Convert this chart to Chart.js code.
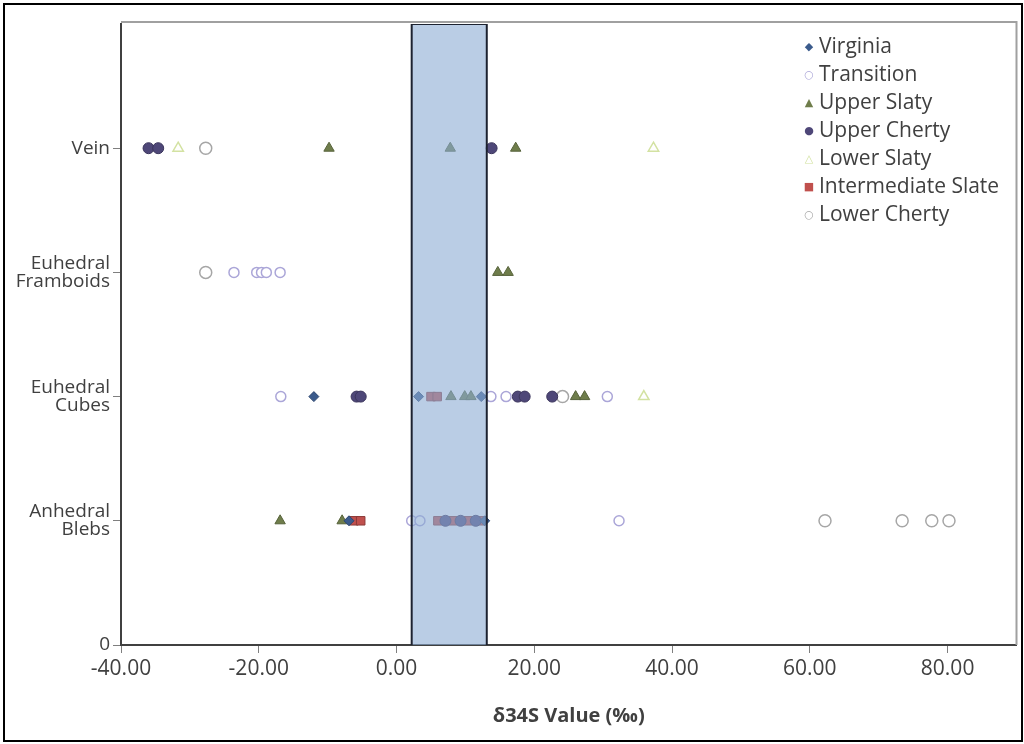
<!DOCTYPE html>
<html lang="en">
  <head>
    <meta charset="UTF-8" />
    <title>d34S by pyrite texture</title>
    <style>
      * {
        margin: 0;
        padding: 0;
      }
      body {
        width: 1024px;
        height: 744px;
        background: #fff;
        position: relative;
        overflow: hidden;
        font-family: "Open Sans", sans-serif;
      }
      .frame {
        position: absolute;
        left: 3px;
        top: 3px;
        width: 1016px;
        height: 735px;
        border: 2px solid #000;
      }
      .chartBox {
        position: absolute;
        left: 0;
        top: 0;
        width: 1024px;
        height: 744px;
      }
      .legend {
        position: absolute;
        left: 799px;
        top: 32px;
        font-size: 21px;
        color: #404040;
        line-height: 27px;
      }
      .legend div {
        white-space: nowrap;
      }
      .legend span {
        display: inline-block;
        width: 20px;
        font-family: "DejaVu Sans", sans-serif;
        font-size: 11px;
        text-align: center;
        vertical-align: 3px;
      }
    </style>
  </head>
  <body>
    <div class="chartBox">
      <canvas id="myChart" width="1024" height="744"></canvas>
    </div>
    <div class="frame"></div>
    <div class="legend" id="legend"></div>

    <script src="https://cdn.jsdelivr.net/npm/chart.js"></script>

    <script>
      // data block: y categories bottom to top
      const categories = ["Anhedral Blebs", "Euhedral Cubes", "Euhedral Framboids", "Vein"];
      const xTicks = [-40, -20, 0, 20, 40, 60, 80];
      const boxRange = [2.2, 13.1];

      // each series: values per category (same order as categories)
      const virginia = [[-6.9, 12.8], [-12.0, 3.2, 12.3], [], []];
      const transition = [[2.2, 3.4, 32.3], [-16.8, 13.7, 15.9, 30.6], [-23.6, -20.3, -19.6, -18.9, -16.9], []];
      const upperSlaty = [[-16.9, -7.9], [7.9, 9.9, 10.8, 26.0, 27.3], [14.7, 16.2], [-9.8, 7.8, 17.3]];
      const upperCherty = [[7.1, 9.3, 11.5], [-5.8, -5.2, 17.6, 18.6, 22.6], [], [-36.0, -34.6, 13.8]];
      const lowerSlaty = [[], [35.9], [], [-31.7, 37.3]];
      const intermediateSlate = [[-6.2, -5.2, 6.0, 8.2, 10.4, 12.2], [5.0, 5.9], [], []];
      const lowerCherty = [[62.2, 73.4, 77.7, 80.2], [24.1], [-27.7], [-27.7]];

      const series = [
        { name: "Virginia", values: virginia, style: "rectRot", r: 5, bg: "#3b5b8c", bc: "#2d4670", bw: 1, glyph: "\u25C6" },
        { name: "Transition", values: transition, style: "circle", r: 5, bg: "#ffffff", bc: "#aba6d8", bw: 1.5, glyph: "\u25CB" },
        { name: "Upper Slaty", values: upperSlaty, style: "triangle", r: 6, bg: "#6f7d4b", bc: "#56623a", bw: 1, glyph: "\u25B2" },
        { name: "Upper Cherty", values: upperCherty, style: "circle", r: 5.5, bg: "#4e4778", bc: "#3b355c", bw: 1, glyph: "\u25CF" },
        { name: "Lower Slaty", values: lowerSlaty, style: "triangle", r: 6, bg: "#ffffff", bc: "#d3e2a2", bw: 1.5, glyph: "\u25B3" },
        { name: "Intermediate Slate", values: intermediateSlate, style: "rect", r: 6, bg: "#c0504d", bc: "#8c3a38", bw: 1, glyph: "\u25A0" },
        { name: "Lower Cherty", values: lowerCherty, style: "circle", r: 6, bg: "#ffffff", bc: "#a6a6a6", bw: 1.5, glyph: "\u25CB" }
      ];

      function toPoints(values) {
        const pts = [];
        values.forEach((list, i) => {
          list.forEach((v) => pts.push({ x: v, y: i + 1 }));
        });
        return pts;
      }

      const datasets = [
        {
          type: "line",
          label: "range",
          data: [
            { x: boxRange[0], y: 0 },
            { x: boxRange[0], y: 5 },
            { x: boxRange[1], y: 5 },
            { x: boxRange[1], y: 0 }
          ],
          showLine: true,
          fill: "origin",
          backgroundColor: "rgba(140, 172, 212, 0.6)",
          borderColor: "#1d2230",
          borderWidth: 2,
          pointRadius: 0,
          tension: 0,
          order: 0
        }
      ];

      series.forEach((s) => {
        datasets.push({
          label: s.name,
          data: toPoints(s.values),
          pointStyle: s.style,
          pointRadius: s.r,
          backgroundColor: s.bg,
          borderColor: s.bc,
          borderWidth: s.bw,
          order: 1
        });
      });

      // plot area border (top and right, like Excel)
      const plotBorder = {
        id: "plotBorder",
        afterDraw(chart) {
          const { ctx, chartArea: { left, top, right, bottom } } = chart;
          ctx.save();
          ctx.strokeStyle = "#a0a0a0";
          ctx.lineWidth = 2;
          ctx.beginPath();
          ctx.moveTo(left, top - 2);
          ctx.lineTo(right, top - 2);
          ctx.lineTo(right, bottom);
          ctx.stroke();
          ctx.restore();
        }
      };

      const config = {
        type: "scatter",
        data: { datasets },
        options: {
          responsive: false,
          animation: false,
          layout: { padding: { top: 24, right: -4, left: 0, bottom: 0 } },
          plugins: {
            legend: { display: false },
            tooltip: { enabled: false }
          },
          scales: {
            x: {
              min: -40,
              max: 90,
              afterFit(scale) {
                scale.height = 99;
              },
              afterBuildTicks(scale) {
                scale.ticks = xTicks.map((v) => ({ value: v }));
              },
              ticks: {
                callback: (v) => Number(v).toFixed(2),
                color: "#404040",
                font: { family: "Open Sans", size: 21 },
                padding: 3,
                maxRotation: 0
              },
              grid: {
                drawOnChartArea: false,
                tickLength: 8,
                color: "#7f7f7f"
              },
              border: { color: "#404040", width: 2 },
              title: {
                display: true,
                text: "\u03B434S Value (\u2030)",
                color: "#404040",
                font: { family: "Open Sans", size: 20, weight: "bold" },
                padding: { top: 8, bottom: 16 }
              }
            },
            y: {
              min: 0,
              max: 5,
              afterFit(scale) {
                scale.width = 121;
              },
              afterBuildTicks(scale) {
                scale.ticks = [0, 1, 2, 3, 4].map((v) => ({ value: v }));
              },
              ticks: {
                callback: (v) => (v === 0 ? "0" : categories[v - 1].split(" ")),
                color: "#404040",
                font: { family: "Open Sans", size: 19, lineHeight: 0.95 },
                padding: 3
              },
              grid: {
                drawOnChartArea: false,
                tickLength: 8,
                color: "#7f7f7f"
              },
              border: { color: "#404040", width: 2 }
            }
          }
        },
        plugins: [plotBorder]
      };

      const myChart = new Chart(document.getElementById("myChart"), config);

      // legend block
      const legend = document.getElementById("legend");
      series.forEach((s) => {
        const row = document.createElement("div");
        const mark = document.createElement("span");
        mark.textContent = s.glyph;
        mark.style.color = s.bg === "#ffffff" ? s.bc : s.bg;
        row.appendChild(mark);
        row.appendChild(document.createTextNode(s.name));
        legend.appendChild(row);
      });
    </script>
  </body>
</html>
